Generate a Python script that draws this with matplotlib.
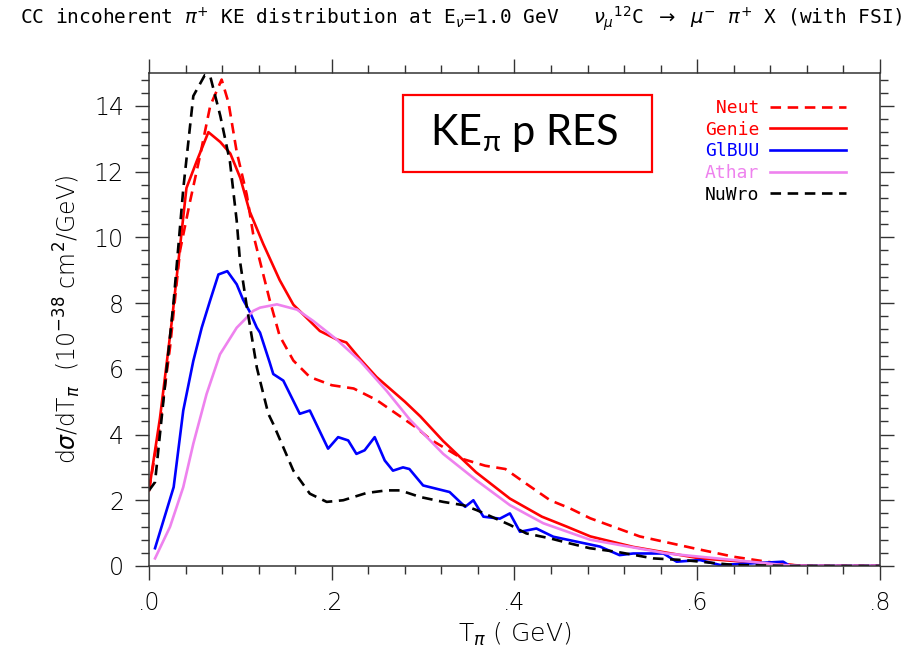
import matplotlib
matplotlib.use('Agg')
import matplotlib.pyplot as plt
from matplotlib.patches import Rectangle
from matplotlib.ticker import MultipleLocator, FuncFormatter

# Neut (red dashed)
neut_x = [0.0, 0.012, 0.023, 0.034, 0.045, 0.056, 0.067, 0.0795, 0.087, 0.096, 0.107, 0.114, 0.123, 0.132,
          0.143, 0.158, 0.176, 0.20, 0.224, 0.249, 0.275, 0.293, 0.308, 0.344, 0.368, 0.39, 0.413, 0.439,
          0.461, 0.483, 0.537, 0.596, 0.64, 0.676, 0.712, 0.8]
neut_y = [2.3, 4.3, 6.65, 9.6, 11.1, 12.5, 14.0, 14.8, 14.1, 12.6, 11.3, 10.1, 9.1, 8.1,
          7.0, 6.25, 5.75, 5.5, 5.4, 5.05, 4.55, 4.2, 3.85, 3.25, 3.05, 2.95, 2.5, 2.0,
          1.75, 1.45, 0.9, 0.54, 0.28, 0.13, 0.0, 0.0]

# Genie (red solid)
genie_x = [0.0, 0.012, 0.025, 0.041, 0.052, 0.065, 0.078, 0.089, 0.10, 0.11, 0.125, 0.143, 0.158, 0.187,
           0.205, 0.216, 0.231, 0.249, 0.28, 0.297, 0.322, 0.358, 0.395, 0.43, 0.457, 0.483, 0.53,
           0.603, 0.676, 0.72, 0.8]
genie_y = [2.3, 4.5, 7.45, 11.5, 12.3, 13.2, 12.9, 12.55, 11.8, 10.8, 9.8, 8.7, 7.95, 7.15,
           6.9, 6.8, 6.3, 5.75, 5.0, 4.55, 3.8, 2.85, 2.05, 1.5, 1.2, 0.9, 0.58,
           0.23, 0.08, 0.0, 0.0]

# GiBUU (blue)
gibuu_x = [0.0066, 0.027, 0.0375, 0.0485, 0.0577, 0.0667, 0.076, 0.0857, 0.096, 0.103, 0.11, 0.118, 0.1215,
           0.132, 0.136, 0.147, 0.165, 0.176, 0.196, 0.207, 0.218, 0.227, 0.236, 0.247, 0.258, 0.267,
           0.278, 0.285, 0.30, 0.329, 0.346, 0.355, 0.366, 0.384, 0.395, 0.406, 0.424, 0.4425, 0.468,
           0.4936, 0.515, 0.53, 0.563, 0.5775, 0.603, 0.625, 0.66, 0.694, 0.7015, 0.8]
gibuu_y = [0.54, 2.4, 4.73, 6.24, 7.25, 8.06, 8.87, 8.97, 8.57, 8.1, 7.75, 7.25, 7.1,
           6.2, 5.84, 5.64, 4.63, 4.73, 3.57, 3.92, 3.82, 3.41, 3.52, 3.92, 3.21, 2.9,
           3.0, 2.95, 2.45, 2.25, 1.8, 2.0, 1.5, 1.44, 1.6, 1.04, 1.14, 0.89, 0.74,
           0.59, 0.33, 0.38, 0.38, 0.13, 0.18, 0.03, 0.08, 0.13, 0.0, 0.0]

# Athar (violet)
athar_x = [0.0066, 0.023, 0.0375, 0.0485, 0.063, 0.0777, 0.096, 0.114, 0.1215, 0.14, 0.162, 0.18, 0.205,
           0.231, 0.26, 0.2856, 0.322, 0.3586, 0.395, 0.4315, 0.4826, 0.567, 0.64, 0.694, 0.72, 0.8]
athar_y = [0.23, 1.19, 2.4, 3.72, 5.23, 6.44, 7.25, 7.76, 7.86, 7.96, 7.8, 7.45, 6.9,
           6.24, 5.33, 4.45, 3.41, 2.6, 1.85, 1.3, 0.8, 0.38, 0.18, 0.03, 0.0, 0.0]

# NuWro (black dashed)
nuwro_x = [0.0, 0.0066, 0.027, 0.0376, 0.0485, 0.061, 0.067, 0.078, 0.0886, 0.096, 0.0996, 0.107, 0.118,
           0.1215, 0.1306, 0.136, 0.158, 0.176, 0.1945, 0.2126, 0.238, 0.26, 0.275, 0.2966, 0.322,
           0.344, 0.3586, 0.395, 0.413, 0.439, 0.46, 0.4826, 0.512, 0.552, 0.585, 0.64, 0.70, 0.8]
nuwro_y = [2.3, 2.55, 8.06, 11.5, 14.3, 14.93, 14.9, 13.7, 12.3, 10.5, 9.27, 7.9, 6.04,
           5.64, 4.63, 4.32, 2.9, 2.2, 1.95, 2.0, 2.22, 2.3, 2.3, 2.1, 1.95,
           1.85, 1.7, 1.25, 0.99, 0.84, 0.69, 0.54, 0.43, 0.23, 0.18, 0.03, 0.0, 0.0]

TITLE = (r"CC incoherent $\pi^{+}$ KE distribution at E$_{\nu}$=1.0 GeV   "
         r"$\nu_{\mu}$$^{12}$C $\rightarrow$ $\mu^{-}$ $\pi^{+}$ X (with FSI)")

fig = plt.figure(figsize=(9.22, 6.54), dpi=100)
ax = fig.add_axes([0.1616, 0.1346, 0.7928, 0.7538])

dash = (0, (4, 2.5))
# labels padded so the monospace legend text lines up on the right
ax.plot(neut_x, neut_y, color='#ff0000', lw=1.9, ls=dash, label=' Neut')
ax.plot(genie_x, genie_y, color='#ff0000', lw=1.9, label='Genie')
ax.plot(gibuu_x, gibuu_y, color='#0000ff', lw=1.9, label='GlBUU')
ax.plot(athar_x, athar_y, color='#ee82ee', lw=1.9, label='Athar')
ax.plot(nuwro_x, nuwro_y, color='black', lw=1.9, ls=dash, label='NuWro')

ax.set_xlim(0, 0.8)
ax.set_ylim(0, 15)

# axis cosmetics
for s in ax.spines.values():
    s.set_linewidth(1.1)
    s.set_color('#333333')
ax.xaxis.set_major_locator(MultipleLocator(0.2))
ax.xaxis.set_minor_locator(MultipleLocator(0.04))
ax.yaxis.set_major_locator(MultipleLocator(2))
ax.yaxis.set_minor_locator(MultipleLocator(0.4))
ax.xaxis.set_major_formatter(FuncFormatter(lambda v, p: ('%.1f' % v)[1:]))
ax.tick_params(which='both', direction='out', top=True, right=True, color='#333333', width=1.0)
ax.tick_params(which='major', length=10, labelsize=17, pad=8)
ax.tick_params(which='minor', length=6)
for lbl in ax.get_xticklabels() + ax.get_yticklabels():
    lbl.set_fontweight('light')

ax.set_xlabel(r'T$_\pi$ ( GeV)', fontsize=18, fontweight='light', labelpad=4)
ax.set_ylabel(r'd$\sigma$/dT$_\pi$  (10$^{-38}$ cm$^2$/GeV)', fontsize=17, fontweight='light', labelpad=8)

fig.text(0.5, 0.972, TITLE, ha='center', va='center', fontsize=14, family='DejaVu Sans Mono')

leg = ax.legend(loc='upper right', bbox_to_anchor=(0.976, 0.98), frameon=False, markerfirst=False,
                labelcolor='linecolor', handlelength=4.2, handletextpad=0.6, labelspacing=0.2,
                prop={'family': 'DejaVu Sans Mono', 'size': 13})

# KE label box
fig.patches.append(Rectangle((403 / 922, 1 - 172 / 654), 249 / 922, 77 / 654, transform=fig.transFigure,
                             fill=False, edgecolor='#ff0000', lw=1.6))
fig.text(524 / 922, 1 - 133.5 / 654, r'KE$_{\mathregular{π}}$ p RES', ha='center', va='center',
         fontsize=30, family=['Lato', 'DejaVu Sans'])

fig.savefig('out.png', dpi=100)
